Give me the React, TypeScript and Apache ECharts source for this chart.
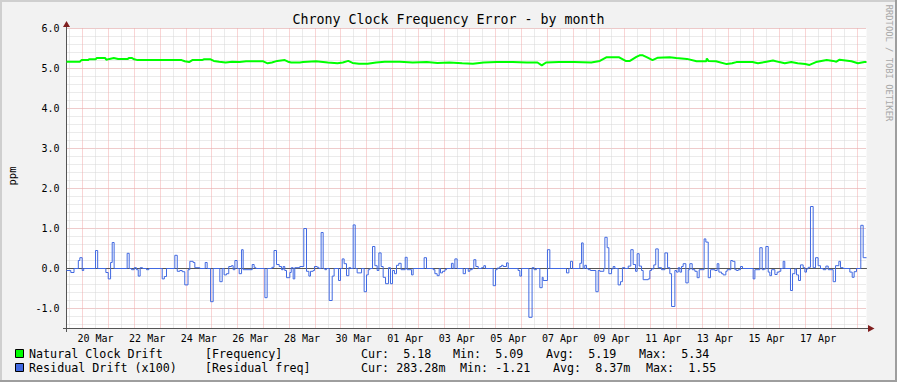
import React, { useEffect, useRef } from "react";
import * as echarts from "echarts";

// x values: hours since 19 Mar 09:00 (graph start); graph spans 31 days = 744 h
const X_MAX = 744;
const xTickLabels = [
  "20 Mar", "22 Mar", "24 Mar", "26 Mar", "28 Mar", "30 Mar", "01 Apr", "03 Apr",
  "05 Apr", "07 Apr", "09 Apr", "11 Apr", "13 Apr", "15 Apr", "17 Apr",
];
const FIRST_LABEL_HOUR = 27; // 20 Mar 12:00
const LABEL_STEP_HOURS = 48;
const FIRST_MIDNIGHT_HOUR = 15; // 20 Mar 00:00
const FIRST_NOON_HOUR = 3; // 19 Mar 12:00
const yTickValues = [-1, 0, 1, 2, 3, 4, 5, 6];
const Y_MIN = -1.5;
const Y_MAX = 6;

// Natural Clock Drift [Frequency] (ppm)
const naturalDrift: [number, number][] = [
  [0, 5.17], [12.4, 5.17], [13.9, 5.21], [20, 5.21], [21, 5.23], [27, 5.23], [28, 5.26],
  [36, 5.26], [37, 5.22], [40, 5.24], [44, 5.26], [48, 5.24], [57, 5.24], [58, 5.26],
  [61, 5.26], [63, 5.23], [66, 5.21], [107, 5.21], [110, 5.18], [114, 5.16], [117, 5.21],
  [126, 5.21], [128, 5.23], [134, 5.23], [137, 5.19], [142, 5.17], [148, 5.15], [154, 5.17],
  [161, 5.16], [167, 5.18], [183, 5.18], [187, 5.13], [191, 5.15], [196, 5.19], [203, 5.21],
  [206, 5.17], [209, 5.15], [217, 5.15], [220, 5.16], [232, 5.18], [243, 5.15], [252, 5.13],
  [257, 5.15], [262, 5.19], [266, 5.14], [272, 5.12], [280, 5.12], [288, 5.15], [296, 5.17],
  [310, 5.17], [322, 5.15], [335, 5.16], [345, 5.14], [356, 5.15], [368, 5.13], [378, 5.12],
  [388, 5.15], [400, 5.16], [415, 5.16], [428, 5.15], [438, 5.15], [442, 5.08], [446, 5.15],
  [458, 5.16], [472, 5.16], [488, 5.15], [496, 5.19], [502, 5.28], [514, 5.28], [520, 5.19],
  [524, 5.19], [527, 5.24], [530, 5.29], [533, 5.33], [536, 5.33], [540, 5.28], [545, 5.21],
  [550, 5.27], [561, 5.28], [567, 5.26], [577, 5.24], [586, 5.18], [595, 5.18], [595.5, 5.25],
  [597, 5.19], [604, 5.18], [614, 5.11], [619, 5.13], [623, 5.16], [638, 5.16], [643, 5.13],
  [651, 5.17], [657, 5.2], [663, 5.16], [668, 5.13], [674, 5.16], [680, 5.13], [687, 5.11],
  [691, 5.09], [697, 5.16], [707, 5.21], [713, 5.19], [716, 5.17], [719, 5.22], [730, 5.18],
  [736, 5.13], [742, 5.16], [744, 5.16],
];

// Residual Drift (x100) [Residual freq]: value holds from the given hour until the next one
const residualDrift: [number, number][] = [
  [0, -0.05], [4, -0.1], [7, 0.0], [11, 0.2], [12.4, 0.27], [14.6, -0.05], [16, 0.0],
  [27, 0.45], [29, 0.0], [36.6, -0.1], [38.8, -0.26], [41, 0.15], [42.5, 0.65], [44.3, 0.0],
  [56.4, 0.38], [58.3, 0.0], [60.5, -0.03], [63, 0.02], [65, -0.03], [66.7, -0.19],
  [68.5, 0.02], [70.7, 0.0], [74.4, -0.03], [76.6, 0.0], [89, -0.26], [91, -0.2], [93, 0.0],
  [100.75, 0.33], [103, -0.07], [105.4, -0.05], [107.6, -0.08], [110, -0.41], [113, -0.03],
  [114.7, 0.18], [117.8, 0.15], [119.35, 0.02], [124, 0.0], [129, 0.15], [130.8, 0.0],
  [134, -0.83], [136.4, 0.0], [142.6, -0.33], [144.8, 0.0], [146.6, -0.16], [148.8, -0.13],
  [150.9, 0.05], [153.4, 0.07], [155, -0.03], [156.6, 0.2], [158.7, 0.0], [160.6, -0.13],
  [162.8, 0.47], [164.3, -0.03], [172.7, 0.1], [174.5, 0.03], [176, 0.0], [184.5, -0.73],
  [186.6, 0.0], [191, 0.03], [193, 0.45], [195.3, 0.1], [197.8, 0.05], [200, -0.03],
  [201.5, 0.05], [203, -0.05], [204.6, -0.23], [207.7, -0.1], [209, 0.02], [210.8, -0.26],
  [212.3, 0.02], [217, 0.05], [220.7, 1.0], [223.2, -0.07], [225.4, -0.19], [226.9, -0.07],
  [229.4, -0.05], [230.6, 0.05], [233.1, 0.03], [234.7, 0.0], [236.8, 0.9], [238.7, 0.0],
  [240.3, -0.03], [241.8, 0.0], [244.3, -0.8], [247.1, -0.19], [248.9, 0.0], [253, -0.3],
  [254.8, 0.0], [256.4, 0.24], [258.2, 0.12], [260.4, -0.18], [262.6, 0.02], [264.4, 0.0],
  [266.6, 1.09], [268.5, 0.0], [270.3, -0.11], [274.4, 0.0], [276.8, -0.58], [279, -0.16],
  [280.6, -0.03], [282.1, 0.0], [284.6, 0.55], [286.8, 0.07], [288.9, -0.05], [290.5, 0.39],
  [292.6, 0.05], [294.5, -0.22], [296.7, -0.38], [299.5, 0.02], [301.3, -0.38], [303.2, -0.05],
  [305, -0.13], [306.9, 0.08], [309, 0.13], [311.2, -0.03], [315, 0.28], [316.8, -0.03],
  [320.9, -0.16], [322.4, 0.0], [332.6, 0.27], [334.8, 0.0], [341, -0.03], [342.6, -0.13],
  [344.7, -0.18], [346.6, 0.0], [347.8, -0.11], [349.7, -0.07], [351.9, -0.03], [353.4, 0.0],
  [358, 0.13], [359.6, 0.0], [361.2, 0.24], [363.3, 0.0], [368.9, -0.13], [371, 0.0],
  [373.6, -0.07], [375.1, -0.03], [377.3, 0.0], [378.8, 0.22], [380.7, 0.05], [382.9, 0.0],
  [386, 0.02], [388.1, 0.07], [389.7, 0.0], [396.8, -0.43], [399, -0.03], [400.5, 0.01],
  [403, 0.05], [404.6, 0.08], [406.1, 0.05], [409.2, 0.14], [410.8, 0.0], [420, -0.05],
  [421.6, -0.19], [423.2, 0.0], [430, -1.22], [433, 0.02], [434.9, -0.03], [437, 0.0],
  [440.2, -0.48], [442.4, -0.22], [443.3, -0.3], [447.3, 0.47], [449.5, 0.0], [465, -0.11],
  [467.2, 0.0], [468.7, 0.18], [470.6, 0.0], [477.4, 0.13], [479, 0.64], [480.5, 0.0],
  [482, 0.08], [483.6, 0.0], [485.2, -0.03], [487.3, -0.05], [492.3, -0.58], [494.5, -0.05],
  [496, -0.07], [499.7, 0.0], [500.7, 0.78], [502.8, 0.52], [504.4, -0.13], [506.9, -0.01],
  [508.4, 0.05], [510, 0.0], [513, -0.41], [515.2, -0.33], [517, 0.02], [519.3, 0.0],
  [522.4, 0.06], [524.8, 0.47], [527, 0.1], [529.2, -0.07], [530.7, 0.37], [532.6, 0.06],
  [534.8, -0.05], [536.3, -0.28], [541, -0.26], [542.5, -0.05], [544, -0.01], [546.2, 0.09],
  [548, 0.49], [550.3, 0.02], [553.4, -0.03], [556.5, 0.39], [559, 0.02], [561.1, -0.13],
  [562.7, -0.95], [565.8, -0.05], [567.3, -0.09], [568.9, 0.02], [570.4, -0.09], [572, 0.05],
  [573.5, 0.12], [576, -0.36], [578.2, -0.03], [579.7, 0.12], [581.9, -0.03], [584.4, -0.07],
  [586.5, -0.23], [588.4, -0.03], [593, 0.74], [594.6, 0.66], [596.8, -0.23], [598.9, -0.03],
  [603, -0.05], [605.1, 0.12], [606.7, -0.09], [609.2, -0.13], [610.7, -0.16], [613.2, -0.07],
  [614.4, -0.03], [617.8, 0.2], [619.4, 0.18], [621.6, -0.03], [623.1, -0.05], [624.7, -0.03],
  [626.8, 0.05], [628.7, 0.0], [638.6, -0.26], [640.2, -0.03], [644.8, 0.52], [647, -0.03],
  [648.8, -0.01], [650.4, 0.55], [652.6, -0.09], [654.1, -0.18], [655.7, -0.03], [658.8, -0.15],
  [660.9, -0.09], [662.8, -0.07], [664.3, 0.0], [666.5, 0.18], [668, 0.0], [673.3, -0.55],
  [675.2, -0.13], [677.4, -0.01], [678.9, -0.16], [680.8, -0.3], [682.6, 0.09], [685.1, 0.02],
  [686.7, -0.09], [688.2, -0.01], [689.8, 0.03], [691.9, 1.55], [694.4, 0.02], [696.6, 0.27],
  [699, 0.07], [701.2, 0.0], [703.7, -0.03], [706.2, 0.06], [708.4, -0.03], [713, -0.33],
  [715.2, 0.07], [718.3, 0.18], [719.8, 0.02], [722.3, 0.0], [728.5, -0.09], [730.7, -0.22],
  [732.5, -0.08], [734.7, 0.0], [738.7, 1.08], [740.9, 0.27], [744, 0.27],
];

const legendRow1 = ["Natural Clock Drift", "[Frequency]", "Cur:  5.18", "Min:  5.09", "Avg:  5.19", "Max:  5.34"];
const legendRow2 = ["Residual Drift (x100)", "[Residual freq]", "Cur: 283.28m", "Min: -1.21", "Avg:  8.37m", "Max:  1.55"];

const MONO = "'DejaVu Sans Mono', monospace";

export default function App() {
  const ref = useRef<HTMLDivElement>(null);
  useEffect(() => {
    if (!ref.current) return;
    const chart = echarts.init(ref.current, null, { renderer: "svg" });

    const majorColor = "#F3AAAA";
    const minorColor = "#D6D6D6";

    const hiddenAxisBase = {
      type: "value",
      axisLine: { show: false },
      axisTick: { show: false },
      axisLabel: { show: false },
    };
    const gridLine = (color: string) => ({
      show: true, showMinLine: false, showMaxLine: false,
      lineStyle: { color, width: 1, type: [1, 1] },
    });
    // grid-only axes, measured in days from the first noon / first midnight
    const dayAxis = (firstHour: number, color: string) => ({
      ...hiddenAxisBase,
      min: (0 - firstHour) / 24,
      max: (X_MAX - firstHour) / 24,
      splitNumber: X_MAX / 24,
      splitLine: gridLine(color),
    });
    // grid-only y axes measured downward from the top of the plot
    const yGridAxis = (interval: number, color: string) => ({
      ...hiddenAxisBase,
      inverse: true,
      min: 0,
      max: Y_MAX - Y_MIN,
      interval,
      splitLine: { ...gridLine(color), showMinLine: true },
    });

    const legendXs1 = [29, 205, 361, 453, 546, 639];
    const legendXs2 = [29, 205, 361, 460, 553, 646];
    const legendTexts: any[] = [];
    legendRow1.forEach((t, i) =>
      legendTexts.push({
        type: "text", x: legendXs1[i], y: 354, silent: true,
        style: { text: t, fill: "#000", fontFamily: MONO, fontSize: 11.7, align: "left", verticalAlign: "middle" },
      })
    );
    legendRow2.forEach((t, i) =>
      legendTexts.push({
        type: "text", x: legendXs2[i], y: 367.5, silent: true,
        style: { text: t, fill: "#000", fontFamily: MONO, fontSize: 11.7, align: "left", verticalAlign: "middle" },
      })
    );

    const option: any = {
      animation: false,
      backgroundColor: "#F2F2F2",
      textStyle: { fontFamily: MONO },
      grid: {
        left: 66.5, top: 28.5, width: 800, height: 300,
        show: true, backgroundColor: "#FFFFFF", borderWidth: 0, containLabel: false,
      },
      xAxis: [
        {
          type: "value", min: 0, max: X_MAX, interval: 3,
          axisLine: { show: true, lineStyle: { color: "#555555", width: 1 } },
          axisTick: { show: false },
          splitLine: { show: false },
          axisLabel: {
            show: true, margin: 5, color: "#000", fontFamily: MONO, fontSize: 10,
            showMinLabel: true, showMaxLabel: true, hideOverlap: false,
            formatter: (v: number) => {
              const k = (v - FIRST_LABEL_HOUR) / LABEL_STEP_HOURS;
              if (Number.isInteger(k) && k >= 0 && k < xTickLabels.length) return xTickLabels[k];
              return "";
            },
          },
        },
        dayAxis(FIRST_NOON_HOUR, minorColor),
        dayAxis(FIRST_MIDNIGHT_HOUR, majorColor),
      ],
      yAxis: [
        {
          type: "value", min: Y_MIN, max: Y_MAX, interval: 0.5,
          axisLine: { show: true, lineStyle: { color: "#555555", width: 1 } },
          axisTick: { show: false },
          splitLine: { show: false },
          axisLabel: {
            show: true, margin: 7, color: "#000", fontFamily: MONO, fontSize: 10,
            formatter: (v: number) => (yTickValues.indexOf(v) >= 0 ? v.toFixed(1) : ""),
          },
        },
        yGridAxis(0.2, minorColor),
        yGridAxis(1, majorColor),
      ],
      series: [
        {
          type: "line", name: "Natural Clock Drift", data: naturalDrift, z: 3,
          xAxisIndex: 0, yAxisIndex: 0,
          showSymbol: false, symbol: "none",
          lineStyle: { color: "#00FF00", width: 2 },
        },
        {
          type: "line", name: "Residual Drift (x100)", data: residualDrift, z: 4, step: "end",
          xAxisIndex: 0, yAxisIndex: 0,
          showSymbol: false, symbol: "none",
          lineStyle: { color: "#4169E1", width: 1 },
        },
      ],
      graphic: [
        // frame shading
        { type: "rect", shape: { x: 0, y: 0, width: 897, height: 2 }, style: { fill: "#CFCFCF" }, silent: true },
        { type: "rect", shape: { x: 0, y: 0, width: 2, height: 382 }, style: { fill: "#CFCFCF" }, silent: true },
        { type: "rect", shape: { x: 0, y: 380, width: 897, height: 2 }, style: { fill: "#9E9E9E" }, silent: true },
        { type: "rect", shape: { x: 895, y: 0, width: 2, height: 382 }, style: { fill: "#9E9E9E" }, silent: true },
        // axis extensions and arrows
        { type: "line", shape: { x1: 66.5, y1: 24, x2: 66.5, y2: 332 }, style: { stroke: "#555555", lineWidth: 1 }, silent: true },
        { type: "line", shape: { x1: 63, y1: 328.5, x2: 869, y2: 328.5 }, style: { stroke: "#555555", lineWidth: 1 }, silent: true },
        { type: "polygon", shape: { points: [[66.5, 21], [63, 27], [70, 27]] }, style: { fill: "#801F1F" }, silent: true },
        { type: "polygon", shape: { points: [[874.5, 328.5], [868, 325], [868, 332]] }, style: { fill: "#801F1F" }, silent: true },
        // title
        {
          type: "text", x: 448.5, y: 19.5, silent: true,
          style: { text: "Chrony Clock Frequency Error - by month", fill: "#000", fontFamily: MONO, fontSize: 13.3, align: "center", verticalAlign: "middle" },
        },
        // y axis title
        {
          type: "text", x: 11.5, y: 176, rotation: Math.PI / 2, silent: true,
          style: { text: "ppm", fill: "#000", fontFamily: MONO, fontSize: 10.5, align: "center", verticalAlign: "middle" },
        },
        // watermark
        {
          type: "text", x: 889, y: 63, rotation: -Math.PI / 2, silent: true,
          style: { text: "RRDTOOL / TOBI OETIKER", fill: "#A8A8A8", fontFamily: MONO, fontSize: 8.8, align: "center", verticalAlign: "middle" },
        },
        // legend squares
        { type: "rect", shape: { x: 15.5, y: 349.5, width: 8, height: 8 }, style: { fill: "#00FF00", stroke: "#000", lineWidth: 1 }, silent: true },
        { type: "rect", shape: { x: 15.5, y: 363.5, width: 8, height: 8 }, style: { fill: "#4169E1", stroke: "#000", lineWidth: 1 }, silent: true },
        ...legendTexts,
      ],
    };
    chart.setOption(option);
    return () => chart.dispose();
  }, []);

  return (
    <div
      ref={ref}
      style={{ position: "fixed", left: 0, top: 0, width: 897, height: 382 }}
    />
  );
}
